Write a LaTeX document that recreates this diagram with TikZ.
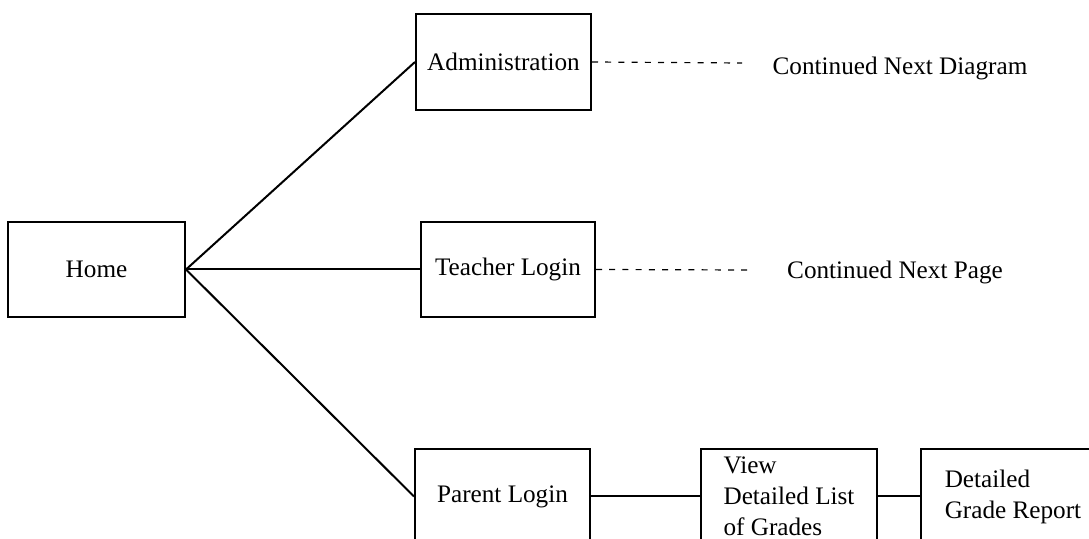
\documentclass[tikz,border=0pt]{standalone}
\usepackage{fontspec}
\setmainfont{Liberation Serif}
\usepackage{tikz}
\tikzset{%
  pagebox/.style={draw, line width=1pt, minimum width=88pt, minimum height=47.5pt, inner sep=0pt},
  linkline/.style={line width=1pt},
  contline/.style={line width=.6pt, dash pattern=on 3pt off 3.6pt}
}

\begin{document}
\begin{tikzpicture}[x=.5pt,y=-.5pt,font=\fontsize{12.6}{15.5}\selectfont]
\useasboundingbox (0,0) rectangle (1089,539);
\node[pagebox, minimum width=88.5pt] (home) at (96.5,269.5) {Home};
\node[pagebox, minimum width=87.5pt, minimum height=48pt] (admin) at (503.5,62) {Administration};
\node[pagebox, minimum width=87pt] (teacher) at (508,269.5) {Teacher Login};
\node[pagebox, minimum width=87.5pt, minimum height=47pt] (parent) at (502.5,496.5) {Parent Login};
\node[pagebox, minimum height=47pt, align=left] (grades) at (789,496.5) {View\\Detailed List\\of Grades};
\node[pagebox, minimum width=92pt, minimum height=47pt, align=left] (report) at (1013,496.5) {Detailed\\Grade Report};
\node (nextdiagram) at (900,68) {Continued Next Diagram};
\node (nextpage) at (895,272) {Continued Next Page};
\coordinate (adminend) at (742,63);
\coordinate (teacherend) at (747,270);
\draw[linkline] (home.east) -- (admin.west);
\draw[linkline] (home.east) -- (teacher.west);
\draw[linkline] (home.east) -- (parent.west);
\draw[linkline] (parent.east) -- (grades.west);
\draw[linkline] (grades.east) -- (report.west);
\draw[contline] (admin.east) -- (adminend);
\draw[contline] (teacher.east) -- (teacherend);
\end{tikzpicture}
\end{document}
